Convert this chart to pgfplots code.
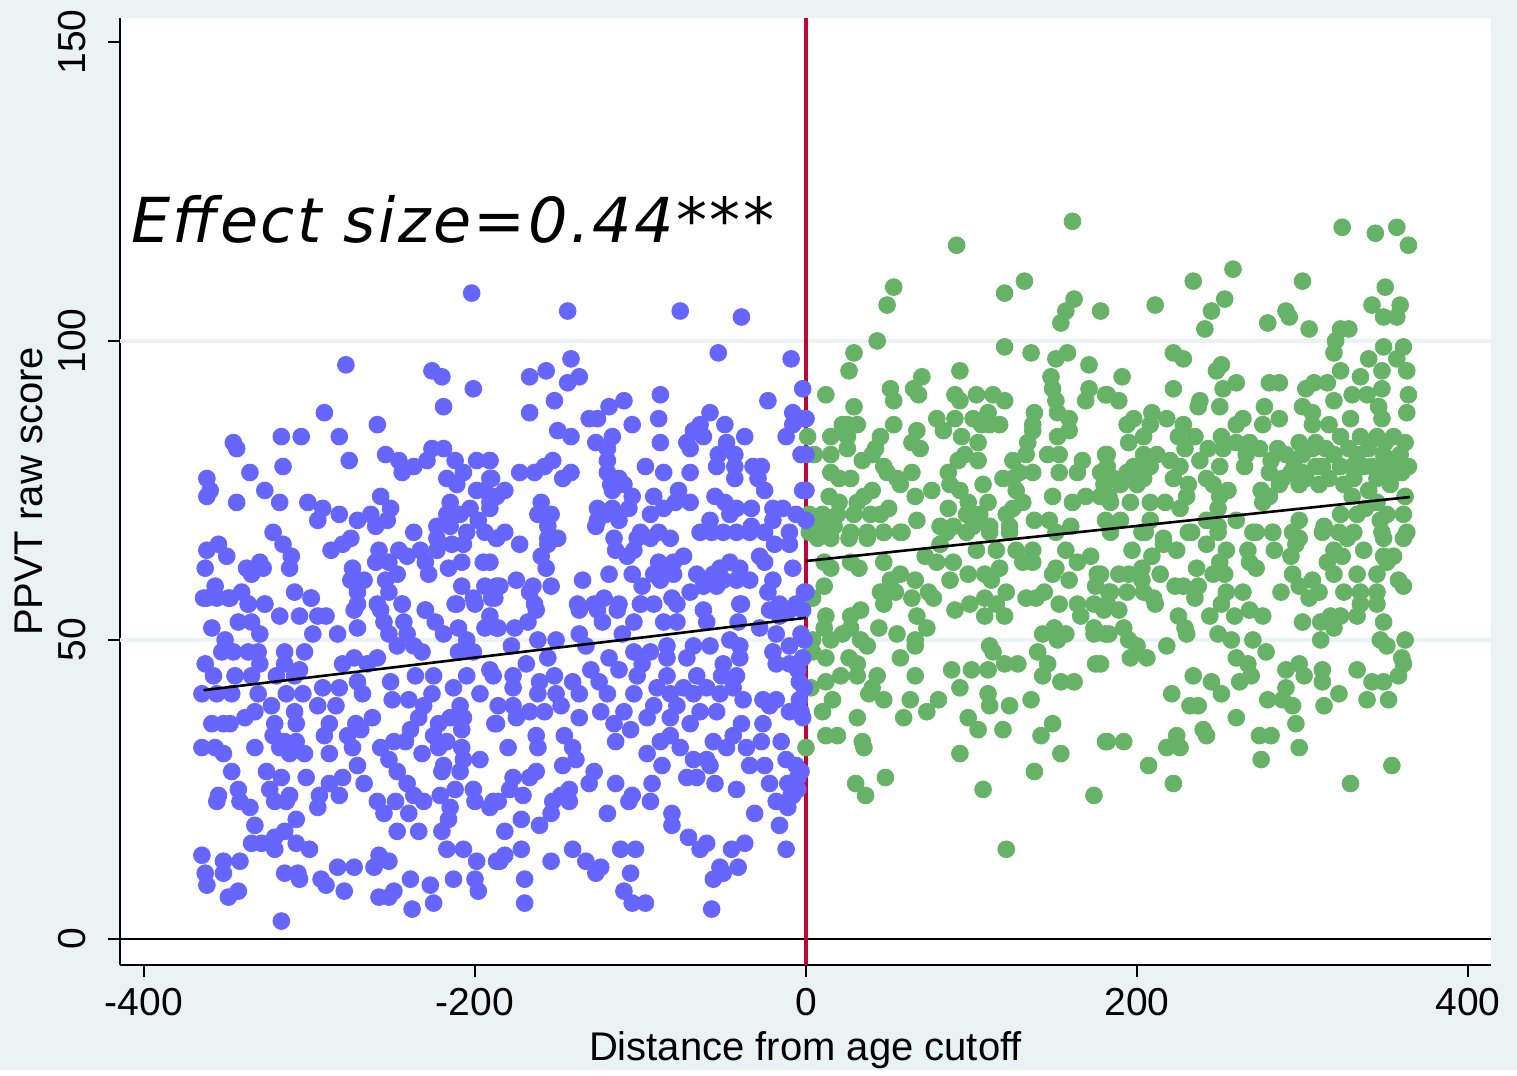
\documentclass[border=0pt]{standalone}
\usepackage{pgfplots}
\pgfplotsset{compat=1.18}
\usepackage{fontspec}
\setmainfont{Liberation Sans}
\newfontfamily\effectfont[LetterSpace=4]{DejaVu Sans}
\definecolor{bgc}{HTML}{EAF2F3}
\definecolor{bluept}{HTML}{6666FF}
\definecolor{greenpt}{HTML}{66B266}
\definecolor{redln}{HTML}{C10534}
\begin{document}
\begin{tikzpicture}
\fill[bgc] (0,0) rectangle (758.5pt,535pt);
\begin{axis}[
 at={(60pt,52.5pt)},anchor=south west,scale only axis,
 width=685.5pt,height=473.5pt,
 xmin=-414.5,xmax=413.9,ymin=-4.35,ymax=154,
 clip marker paths=true,
 axis background/.style={fill=white},
 axis x line=bottom,axis y line=left,axis line style={-,black,line width=0.6pt},
 xtick={-400,-200,0,200,400},ytick={0,50,100,150},
 tick align=outside,major tick length=6pt,
 tick style={black,line width=0.6pt},
 /pgf/number format/assume math mode=true,
 scaled ticks=false,
 tick label style={font=\fontsize{19.5}{22}\selectfont},
 label style={font=\fontsize{20}{22}\selectfont},
 yticklabel style={rotate=90,anchor=south,yshift=7.5pt},
 xticklabel style={yshift=-2pt},
 xlabel={Distance from age cutoff},
 ylabel={PPVT raw score},
 xlabel style={at={(axis description cs:0.5,0)},anchor=north,yshift=-29.5pt},
 ylabel style={at={(axis description cs:0,0.5)},anchor=south,yshift=35pt},
]
\addplot[bgc,line width=1.6pt,forget plot] coordinates {(-414.5,50) (413.9,50)};
\addplot[bgc,line width=1.6pt,forget plot] coordinates {(-414.5,100) (413.9,100)};
\addplot[black,line width=0.6pt,forget plot] coordinates {(-414.5,0) (413.9,0)};
\addplot[redln,line width=1.6pt,forget plot] coordinates {(0,-4.35) (0,154)};
\addplot[only marks,color=greenpt,mark=*,mark size=4.2pt,mark options={draw=greenpt,fill=greenpt}] coordinates {
(161,120)(91,116)(132,110)(53,109)(120,108)(49,106)(162,107)(157,105)(154,103)(178,105)
(43,100)(120,99)(29,98)(136,98)(151,97)(158,98)(171,96)(26,95)(93,95)(70,94)(148,94)
(12,91)(51,92)(65,92)(53,90)(68,91)(90,91)(93,90)(103,91)(113,91)(120,90)(149,92)(171,92)(169,90)(181,91)(151,90)
(29,89)(138,88)(110,88)(152,88)(159,87)(79,87)(90,87)(101,87)(53,86)(25,86)(22,86)(31,86)(137,86)(117,86)(106,86)
(67,85)(83,85)(15,84)(25,84)(1,84)(45,84)(94,84)(137,85)(111,86)(159,85)
(64,83)(69,82)(104,83)(134,83)(152,84)(42,82)(25,82)
(5,81)(15,81)(34,80)(40,81)(96,81)(104,80)(125,80)(133,81)(146,81)(153,81)(181,81)(167,80)
(47,79)(92,80)(15,78)(27,77)(20,77)(64,78)(55,77)(49,78)(86,78)(119,77)(137,78)(129,78)(153,78)(164,78)(178,78)(182,79)
(57,76)(87,76)(107,76)(125,77)(40,75)(76,75)(14,74)(35,74)(66,74)(93,75)(127,75)(149,74)(161,73)(169,74)(178,74)
(20,73)(31,73)(50,72)(86,72)(98,73)(110,73)(131,73)(125,72)(183,74)
(2,71)(10,71)(19,71)(29,71)(39,71)(45,71)(67,70)(97,71)(105,71)(121,71)(138,70)(147,70)(181,70)
(8,69)(17,69)(81,69)(89,69)(101,69)(111,69)(123,69)(160,69)(151,68)
(27,68)(37,68)(47,68)(58,68)(2,68)
(7,67)(15,67)(26,67)(37,67)(47,68)(57,68)(81,66)(85,68)(97,68)(111,68)(123,68)
(11,63)(15,62)(32,62)(27,63)(47,63)(72,64)(79,63)(89,63)(103,65)(115,65)(131,63)(137,63)(137,65)(157,65)(172,64)(127,65)
(57,61)(66,60)(151,62)(149,61)(159,60)(164,63)(176,61)(175,59)(87,60)(98,61)(108,61)(117,62)
(11,59)(51,60)(45,58)(54,58)(47,56)(64,57)(74,58)(77,57)(112,60)(121,58)(144,58)(133,57)(139,57)
(4,57)(90,55)(99,56)(108,57)(115,56)(108,54)(120,54)(153,56)(164,56)(174,56)(183,58)(166,54)(180,55)
(33,55)(27,54)(12,54)(67,54)
(44,52)(55,51)(73,52)(66,50)(27,52)(22,51)(11,52)(4,50)(15,50)(33,50)(37,49)(150,52)(143,51)(157,51)(152,50)(174,52)(174,51)(183,51)(111,49)
(66,49)(57,47)(12,47)(4,48)(26,47)(31,46)(140,48)(146,46)(113,48)
(88,45)(100,45)(110,45)(120,46)(128,46)(175,46)(143,44)(43,44)(66,44)(31,44)(21,44)
(12,43)(3,42)(40,42)(154,43)(162,43)(93,42)(110,41)(47,40)(38,41)(63,40)(80,40)(136,40)(16,40)
(111,39)(123,39)(10,38)(31,37)(59,37)(73,38)(98,37)(149,36)(104,35)(119,35)(142,34)(12,34)(19,34)(34,33)(35,32)(0,32)(181,33)(93,31)(154,31)(138,28)(48,27)(30,26)(36,24)(107,25)(174,24)(121,15)
(324,119)(344,118)(357,119)(364,116)(258,112)(234,110)(300,110)(350,109)
(253,107)(245,105)(211,106)(241,102)(290,105)(292,104)(279,103)(304,102)(342,106)(359,106)(349,104)(357,104)
(323,102)(328,102)(320,100)(319,98)(349,99)(361,99)(222,98)(228,97)(340,97)(357,97)(251,96)(248,95)(323,95)(348,95)(363,95)(335,94)(191,94)
(260,93)(252,92)(280,93)(286,93)(302,92)(307,93)(315,93)(222,92)(348,92)(330,91)(339,91)(364,91)(182,91)(189,90)(319,90)
(238,90)(277,89)(300,89)(346,89)(209,88)(198,87)(218,87)(250,89)(237,89)(306,88)(363,88)
(264,87)(286,87)(329,87)(348,87)(228,86)(260,86)(276,86)(194,86)(208,86)(306,86)(316,86)
(225,84)(235,84)(195,83)(204,84)(251,84)(260,83)(268,83)(298,83)(308,83)(323,84)(335,84)(345,84)(355,84)(362,83)
(229,82)(204,81)(212,81)(243,82)(182,81)(220,80)(252,82)(266,81)(274,82)(290,81)(300,81)(319,81)(333,81)(349,81)(359,81)
(238,80)(250,79)(265,79)(281,80)(226,79)(208,79)(194,78)(198,79)(295,79)(308,79)(323,79)(337,79)(351,79)(364,79)
(222,77)(186,77)(242,77)(204,77)(288,77)(302,77)(316,77)(331,77)(353,77)(345,77)
(231,76)(246,76)(255,75)(275,75)(286,76)(298,76)(310,76)(325,76)(353,76)(180,76)(190,76)(200,76)
(184,73)(196,73)(208,73)(217,73)(230,74)(250,74)(276,73)(280,74)(226,72)(249,72)(362,74)(178,74)
(260,70)(323,71)(333,71)(351,71)(361,71)(298,70)(347,70)(242,70)(190,70)(208,70)
(231,68)(249,69)(270,68)(282,68)(294,68)(313,69)(322,68)(331,68)(348,68)(363,68)(203,68)(216,67)(184,68)
(205,68)(233,68)(249,68)(272,68)(282,68)(298,67)(312,68)(327,67)(349,67)(361,67)
(197,65)(216,66)(224,65)(209,64)(242,66)(254,65)(267,65)(283,65)(296,66)(293,64)(337,65)(319,65)(324,64)(349,64)(355,64)
(236,62)(250,63)(246,61)(253,61)(268,63)(272,62)(203,62)(214,61)(178,61)(189,61)(195,61)(315,63)(294,61)(306,60)(319,61)(333,61)(345,61)(351,63)
(203,60)(358,60)(361,59)(223,59)(235,57)(228,59)(237,59)(264,58)(254,58)(287,58)(298,59)(310,58)(304,57)(325,58)(335,58)(345,58)
(184,58)(194,58)(204,58)(210,57)(182,56)(189,55)(211,56)(251,56)(244,54)(259,54)(268,55)(276,54)(335,56)(345,56)(333,54)(317,54)(323,54)(300,53)(311,53)
(225,54)(229,52)(230,51)(192,52)(181,51)(349,53)(319,52)(311,50)(249,51)(257,50)(270,50)(347,50)(362,50)(195,50)(200,49)(218,49)
(196,47)(206,47)(260,47)(278,48)(351,49)(360,47)(267,46)(178,46)
(361,46)(298,46)(290,45)(312,45)(333,45)(301,44)(358,44)(234,44)(245,43)(269,44)(262,43)(312,43)(342,43)(349,43)(290,42)
(221,41)(251,41)(279,40)(288,40)(322,41)(339,40)(352,40)(232,39)(237,39)(313,39)(294,39)(260,37)(296,36)(240,35)(242,34)(224,34)(274,34)(281,34)(182,33)(192,33)(218,32)(226,32)(298,32)(275,30)(207,29)(354,29)(222,26)(329,26)
(306,82)(314,82)(328,82)(340,82)(350,83)(300,78)(312,79)(330,79)(342,79)(357,80)(360,78)(340,75)(330,74)(345,73)(338,72)(293,78)(280,78)(285,82)
};
\addplot[only marks,color=bluept,mark=*,mark size=4.2pt,mark options={draw=bluept,fill=bluept}] coordinates {
(-202,108)(-278,96)(-226,95)(-220,94)(-201,92)(-219,89)(-291,88)(-259,86)(-317,84)(-305,84)(-282,84)(-346,83)(-344,82)(-276,80)(-316,79)(-336,78)(-362,77)(-360,75)(-362,74)(-327,75)(-344,73)(-318,73)(-301,73)(-292,72)(-295,70)(-282,71)(-271,70)(-263,71)(-257,74)(-251,72)(-253,70)(-260,69)(-322,68)(-316,66)(-311,64)(-312,62)(-355,66)(-362,65)(-350,64)(-363,62)(-338,62)(-330,63)(-328,62)(-335,61)(-357,59)(-362,57)(-356,57)(-349,57)(-341,58)(-309,58)(-299,57)(-337,56)(-327,56)(-287,65)(-280,66)(-275,67)(-237,68)(-258,65)(-246,65)(-233,65)(-223,65)(-214,66)(-207,66)(-260,63)(-252,63)(-241,64)(-230,63)(-228,61)(-216,62)(-208,63)(-195,63)(-274,62)(-275,60)(-267,60)(-271,58)(-254,60)(-247,61)(-252,58)(-244,56)(-230,55)(-208,59)(-211,56)(-201,57)(-194,59)(-187,59)(-190,57)(-271,56)(-259,56)
(-254,81)(-246,80)(-244,78)(-237,79)(-229,80)(-226,82)(-219,82)(-212,80)(-207,78)(-217,77)(-211,76)(-199,80)(-191,80)(-190,77)(-199,75)(-194,75)(-187,74)(-191,72)(-215,73)(-203,72)(-209,71)(-198,70)(-217,71)(-215,69)(-223,69)(-205,68)(-194,68)(-187,67)(-223,67)
(-364,57)(-348,57)(-337,56)(-327,56)(-318,54)(-306,54)(-295,54)(-290,54)(-299,57)(-359,52)(-271,52)(-283,51)(-298,51)(-343,53)(-335,53)(-330,51)(-351,50)(-353,48)(-331,48)(-337,48)(-346,48)(-363,46)(-358,44)(-330,46)(-345,44)(-335,44)(-315,48)(-303,48)(-315,46)(-306,45)(-320,44)(-309,44)(-273,55)(-257,55)(-244,56)(-255,53)(-243,53)(-252,51)(-241,51)(-247,49)(-237,49)(-232,48)(-230,55)(-224,53)(-219,51)(-210,52)(-205,50)(-210,48)(-201,48)(-212,56)(-200,56)(-191,54)(-194,52)(-187,52)(-273,47)(-280,46)(-259,47)(-265,46)(-251,43)(-236,44)(-225,44)
(-365,41)(-356,41)(-347,41)(-331,41)(-323,39)(-314,41)(-304,41)(-292,42)(-282,42)(-271,43)(-268,41)(-295,39)(-284,39)(-250,40)(-240,40)(-226,41)(-231,39)(-234,37)(-239,35)(-209,39)(-215,37)(-207,37)(-222,36)(-208,35)(-225,34)(-217,33)(-205,44)(-213,42)(-197,41)(-189,44)(-188,36)(-333,38)(-339,37)(-348,36)(-359,36)(-352,36)(-309,38)(-308,36)(-321,36)(-322,34)(-315,33)(-308,33)(-312,31)(-303,31)(-318,32)(-288,36)(-291,34)(-277,34)(-272,36)(-262,37)(-269,35)(-274,32)(-288,31)(-365,32)(-357,32)(-352,31)(-333,32)(-271,29)(-267,26)(-257,32)(-249,33)(-242,33)(-252,30)(-247,28)(-241,26)(-237,24)(-232,31)(-222,32)(-219,29)(-220,28)(-209,28)(-208,32)(-207,30)(-197,30)(-347,28)(-326,28)(-317,27)(-302,27)(-280,27)(-288,26)(-343,25)(-355,24)(-356,23)(-324,25)(-312,24)(-321,23)(-314,23)(-294,24)(-282,24)(-295,22)(-342,23)(-336,22)(-333,19)(-259,23)(-255,21)(-248,23)(-240,21)(-231,23)(-221,24)(-212,25)(-201,25)(-200,23)(-189,23)(-215,22)(-216,20)(-220,18)(-308,20)(-247,18)(-234,18)(-315,18)(-321,17)(-335,16)(-329,16)(-321,15)(-308,16)(-300,15)(-217,15)(-207,15)(-365,14)(-363,11)(-362,9)(-352,13)(-342,13)(-352,11)(-349,7)(-343,8)(-315,11)(-307,11)(-306,10)(-283,12)(-273,12)(-258,14)(-252,13)(-261,12)(-293,10)(-290,9)(-279,8)(-239,10)(-227,9)(-213,10)(-200,10)(-199,13)(-198,8)(-258,7)(-249,8)(-252,7)(-225,6)(-238,5)(-317,3)(-187,13)
(-144,105)(-76,105)(-39,104)(-53,98)(-9,97)(-142,97)(-157,95)(-167,94)(-137,94)(-144,93)(-2,92)(-152,90)(-88,91)(-110,90)(-119,89)(-23,90)(-167,88)(-131,87)(-126,87)(-58,88)(-89,87)(-105,86)(-64,86)(-49,86)(-8,88)(-2,87)(-8,86)(-150,85)(-142,84)(-117,84)(-68,85)(-72,83)(-62,84)(-37,84)(-12,84)(-127,83)(-88,83)(-70,82)(-48,83)(-120,82)(-120,80)(-53,81)(-43,81)(-3,81)(-191,80)(-153,80)(-158,79)(-173,78)(-164,78)(-97,79)(-54,79)(-32,79)(-27,79)(-86,78)(-70,78)(-142,78)(-147,77)(-120,78)(-113,77)(-43,77)(-43,79)(-29,77)(-118,76)(-110,76)(-191,77)(-182,75)(-77,75)(-25,75)(-2,75)(-117,75)(-105,74)(-92,74)(-55,74)(-160,73)(-191,73)(-70,73)(-79,73)(-49,73)(-42,72)(-33,72)(-20,72)(-14,72)(-126,72)(-117,72)(-107,72)(-86,72)(-94,71)(-46,71)(-162,71)(-154,71)(-126,70)(-113,70)(-121,71)(-58,70)(-20,70)(-6,71)(0,70)(-127,69)(-156,69)(-33,69)(-10,68)(-182,68)(-187,67)(-100,68)(-89,68)(-64,68)(-57,68)(-50,68)(-42,68)(-34,68)(-25,68)(-156,67)(-150,67)(-116,67)(-102,67)(-94,67)(-82,67)(-19,66)(-10,66)(-173,66)(-156,66)(-115,65)(-104,65)(-28,64)(-160,64)(-108,64)(-89,63)(-80,63)(-74,64)(-46,63)(-25,63)(-8,62)(-157,62)(-191,63)(-135,60)(-119,61)(-105,61)(-66,61)(-56,61)(-52,62)(-40,62)(-175,60)(-86,62)(-92,61)(-80,61)(-185,59)(-165,59)(-154,59)(-99,59)(-88,60)(-34,60)(-20,60)(-50,60)(-42,60)(-167,58)(-23,58)(-1,58)(-188,57)(-122,57)(-62,59)(-70,58)(-81,57)(-54,59)(-164,56)(-138,56)(-128,56)(-113,56)(-100,56)(-92,56)(-39,56)(-16,56)(-6,56)
(-163,55)(-137,55)(-126,55)(-114,55)(-100,56)(-78,56)(-62,55)(-40,56)(-22,55)(-10,55)(-186,52)(-176,52)(-168,53)(-123,53)(-104,53)(-86,53)(-78,53)(-60,53)(-41,53)(-28,52)(-16,54)(-162,50)(-151,50)(-137,51)(-111,51)(-178,49)(-133,49)(-68,49)(-46,50)(-18,51)(-3,51)(-104,48)(-94,48)(-84,49)(-58,49)(-40,49)(-10,49)(-20,48)(-169,46)(-156,47)(-119,47)(-99,46)(-84,47)(-72,47)(-50,46)(-40,47)(-10,46)(-191,45)(-130,45)(-113,45)(-84,44)(-66,44)(-51,44)(-42,44)(-18,46)(-5,45)(-177,44)(-152,44)(-161,43)(-141,43)(-125,43)(-102,44)(-90,42)(-74,42)(-60,42)(-44,42)(-4,43)(-177,42)(-162,41)(-151,41)(-137,41)(-120,41)(-104,41)(-82,41)(-68,41)(-52,41)(-38,40)(-26,40)(-18,40)(-4,40)(-186,39)(-177,39)(-167,38)(-148,39)(-124,38)(-110,38)(-92,39)(-78,39)(-64,38)(-54,38)(-22,39)(-10,38)(-3,38)(-187,36)(-175,37)(-158,38)(-137,37)(-116,36)(-96,37)(-82,37)(-70,36)(-39,36)(-26,36)(-163,34)(-146,34)(-162,32)(-106,35)(-115,33)(-88,33)(-82,34)(-56,33)(-44,34)(-27,33)(-15,33)(-180,32)(-141,32)(-96,31)(-87,29)(-76,32)(-68,30)(-60,30)(-48,32)(-36,32)(-12,30)(-6,29)(-139,30)(-147,29)(-72,27)(-66,27)(-58,29)(-34,29)(-25,29)(-163,28)(-177,27)(-167,27)(-128,28)(-131,26)(-115,26)(-93,26)(-55,26)(-42,25)(-22,26)(-11,26)(-5,27)(-179,25)(-171,24)(-143,25)(-148,24)(-153,23)(-105,24)(-107,23)(-94,23)(-9,24)(-18,23)(-11,22)(-186,23)(-191,22)(-143,23)(-154,21)(-120,21)(-81,21)(-81,19)(-31,21)(-172,20)(-161,19)(-16,19)(-182,18)(-71,17)(-60,16)(-64,15)(-37,16)(-45,15)(-12,15)(-172,15)(-141,15)(-112,15)(-103,15)(-182,14)(-185,13)(-154,13)(-133,13)(-124,12)(-127,11)(-52,12)(-41,12)(-50,11)(-56,10)(-106,11)(-170,10)(-110,8)(-105,6)(-97,6)(-170,6)(-57,5)
(0,87)(0,81)(0,75)(0,58)(-2,55)(-1,50)(-2,47)(-1,42)(-2,37)(-8,24)(-5,25)(-3,28)
};
\addplot[black,line width=1.3pt,forget plot] coordinates {(-364,41.6) (0,53.7)};
\addplot[black,line width=1.3pt,forget plot] coordinates {(0,63.2) (365,73.9)};
\node[anchor=base west,inner sep=0pt,font=\effectfont\itshape\fontsize{31}{36}\selectfont] at (axis cs:-408,116.4) {Effect size=0.44***};
\end{axis}
\end{tikzpicture}
\end{document}
